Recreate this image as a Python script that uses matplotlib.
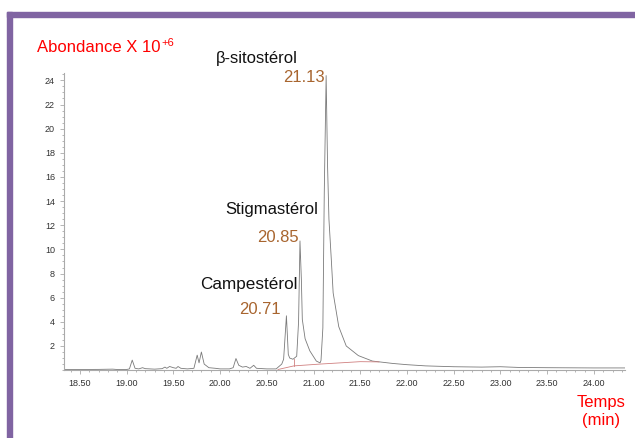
import matplotlib.pyplot as plt
from matplotlib.patches import Rectangle
from matplotlib.ticker import MultipleLocator, FormatStrFormatter

plt.rcParams['font.family'] = ['Liberation Sans', 'DejaVu Sans']

temps = [18.33, 18.50, 18.70, 18.85, 18.90, 19.00, 19.03, 19.06, 19.09, 19.13,
         19.17, 19.20, 19.30, 19.38, 19.41, 19.43, 19.46, 19.50, 19.53, 19.55,
         19.58, 19.65, 19.72, 19.755, 19.775, 19.80, 19.83, 19.88, 19.95, 20.00,
         20.10, 20.14, 20.17, 20.20, 20.24, 20.28, 20.32, 20.36, 20.39, 20.50,
         20.60, 20.66, 20.68, 20.71, 20.73, 20.745, 20.78, 20.82, 20.84, 20.855,
         20.87, 20.88, 20.91, 20.96, 21.03, 21.07, 21.08, 21.10, 21.115, 21.135,
         21.15, 21.165, 21.19, 21.21, 21.27, 21.35, 21.48, 21.63, 21.85, 22.00,
         22.20, 22.50, 22.80, 23.00, 23.20, 23.50, 24.00, 24.33]
abondance = [0.05, 0.05, 0.06, 0.08, 0.05, 0.05, 0.10, 0.83, 0.15, 0.10,
             0.20, 0.12, 0.08, 0.12, 0.25, 0.15, 0.30, 0.20, 0.15, 0.30,
             0.15, 0.10, 0.15, 1.24, 0.60, 1.50, 0.50, 0.20, 0.15, 0.10,
             0.10, 0.20, 0.96, 0.40, 0.25, 0.30, 0.15, 0.40, 0.15, 0.10,
             0.10, 0.50, 0.90, 4.50, 1.30, 1.00, 0.90, 1.15, 4.00, 10.70,
             7.50, 4.20, 2.60, 1.60, 0.75, 0.60, 0.80, 3.50, 14.7, 24.4,
             17.0, 12.5, 9.20, 6.40, 3.60, 2.00, 1.20, 0.75, 0.55, 0.45,
             0.35, 0.28, 0.25, 0.28, 0.22, 0.20, 0.18, 0.18]

# ligne de base d'intégration (rouge)
base_t = [20.62, 20.79, 21.07, 21.50, 21.70]
base_y = [0.05, 0.35, 0.50, 0.70, 0.68]

pics = [("β-sitostérol", "21.13"), ("Stigmastérol", "20.85"), ("Campestérol", "20.71")]

fig = plt.figure(figsize=(6.35, 4.38), dpi=100)
ax = fig.add_axes([0.1008, 0.155, 0.883, 0.678])

ax.plot(temps, abondance, color='#7a7a7a', lw=0.6)
ax.plot(base_t, base_y, color='#d08080', lw=0.6)
ax.plot([20.79, 20.79], [0.35, 0.90], color='#d08080', lw=0.6)

ax.set_xlim(18.33, 24.33)
ax.set_ylim(0, 24.6)
ax.set_xticks([18.5 + 0.5 * i for i in range(12)])
ax.set_yticks(list(range(2, 25, 2)))
ax.xaxis.set_major_formatter(FormatStrFormatter('%.2f'))
ax.xaxis.set_minor_locator(MultipleLocator(0.1))
ax.yaxis.set_minor_locator(MultipleLocator(0.5))
ax.tick_params(which='both', colors='#aaaaaa', labelcolor='#333333', labelsize=6.5, width=0.6)
ax.tick_params(which='major', length=3)
ax.tick_params(which='minor', length=1.5)
for s in ['top', 'right']:
    ax.spines[s].set_visible(False)
for s in ['left', 'bottom']:
    ax.spines[s].set_color('#aaaaaa')
    ax.spines[s].set_linewidth(0.8)

brun = '#a8652f'
t_ab = fig.text(37 / 635, 1 - 48 / 438, 'Abondance X 10', color='red', fontsize=12, va='center')
fig.canvas.draw()
bb = t_ab.get_window_extent(fig.canvas.get_renderer())
fig.text(bb.x1 / 635 + 0.001, 1 - 43 / 438, '+6', color='red', fontsize=8, va='center')

fig.text(216 / 635, 1 - 58 / 438, pics[0][0], color='#111111', fontsize=12, va='center')
fig.text(325 / 635, 1 - 78 / 438, pics[0][1], color=brun, fontsize=12, va='center', ha='right')
fig.text(225 / 635, 1 - 210 / 438, pics[1][0], color='#111111', fontsize=12, va='center')
fig.text(299 / 635, 1 - 238 / 438, pics[1][1], color=brun, fontsize=12, va='center', ha='right')
fig.text(200 / 635, 1 - 285 / 438, pics[2][0], color='#111111', fontsize=12.3, va='center')
fig.text(281 / 635, 1 - 310 / 438, pics[2][1], color=brun, fontsize=12, va='center', ha='right')
fig.text(601 / 635, 1 - 411 / 438, 'Temps\n(min)', color='red', fontsize=12, va='center',
         ha='center', multialignment='center', linespacing=1.25)

# cadre violet
violet = '#8064a2'
fig.patches.append(Rectangle((7 / 635, 1 - 17 / 438), 1, 5 / 438, transform=fig.transFigure,
                             color=violet, zorder=5))
fig.patches.append(Rectangle((7 / 635, 0), 5 / 635, 1 - 12 / 438, transform=fig.transFigure,
                             color=violet, zorder=5))

fig.savefig('out.png', dpi=100)
